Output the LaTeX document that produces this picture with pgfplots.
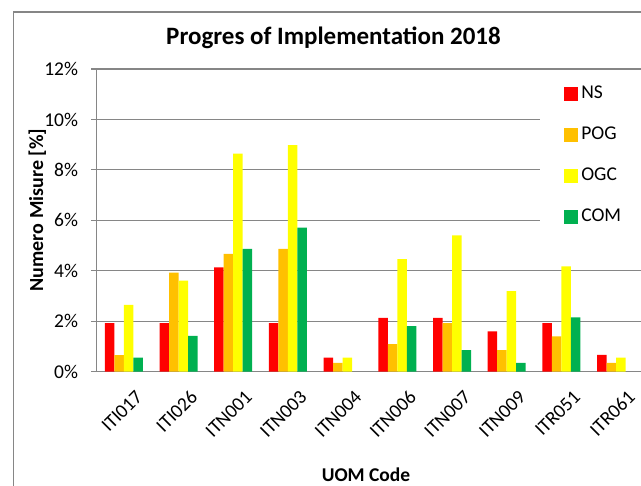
\documentclass[border=0pt]{standalone}
\usepackage{fontspec}
\setmainfont{Carlito}
\usepackage{pgfplots}
\pgfplotsset{compat=1.18}
\definecolor{cNS}{HTML}{FF0000}
\definecolor{cPOG}{HTML}{FFC000}
\definecolor{cOGC}{HTML}{FFFF00}
\definecolor{cCOM}{HTML}{00B050}
\definecolor{axgray}{HTML}{868686}
\pgfplotsset{sqleg/.style={legend image code/.code={\fill[##1] (0pt,-7pt) rectangle (14pt,7pt);}}}
\begin{document}
\begin{tikzpicture}[x=1pt,y=1pt]
\useasboundingbox (0,0) rectangle (641,-486);
\clip (0,0) rectangle (641,-486);
\draw[axgray, line width=1.3pt] (13.5,-490) -- (13.5,-12) -- (650,-12);
\begin{axis}[
  at={(96.5pt,-371.7pt)}, anchor=south west,
  scale only axis, width=547pt, height=302.7pt,
  /pgf/number format/assume math mode=true,
  ybar=0pt, bar width=9.5pt,
  xmin=-0.5, xmax=9.5, ymin=0, ymax=12,
  axis x line*=bottom, axis y line*=left,
  axis line style={axgray, line width=1.2pt, -},
  ymajorgrids, grid style={axgray, line width=1.2pt},
  ytick={0,2,...,12},
  yticklabel={\pgfmathprintnumber{\tick}\%},
  yticklabel style={font=\fontsize{19.5}{21}\selectfont, anchor=east, xshift=-10pt},
  tick align=outside, major tick length=5pt,
  tick style={axgray, line width=1.2pt},
  xtick={0,...,9},
  xticklabels={ITI017,ITI026,ITN001,ITN003,ITN004,ITN006,ITN007,ITN009,ITR051,ITR061},
  xticklabel style={font=\fontsize{19.5}{21}\selectfont, rotate=45, anchor=east, inner sep=1pt, xshift=0pt, yshift=-23pt},
  x tick style={draw=none},
  extra x ticks={-0.5,0.5,...,9.5},
  extra x tick labels={},
  extra x tick style={tick style={axgray, line width=1.2pt, draw=axgray}, grid=none},
  title={\bfseries Progres of Implementation 2018},
  title style={at={(0.4333,1.0595)}, anchor=base, font=\fontsize{25}{28}\selectfont},
  ylabel={\bfseries Numero Misure [\%]},
  ylabel style={at={(-0.1083,0.534)}, anchor=center, font=\fontsize{20}{22}\selectfont},
  xlabel={\bfseries UOM Code},
  xlabel style={at={(0.4927,-0.3396)}, anchor=center, font=\fontsize{19.5}{22}\selectfont},
  legend style={at={(0.811,0.9785)}, anchor=north west, draw=none, fill=white,
    inner xsep=24pt, inner ysep=8pt, row sep=20pt,
    font=\fontsize{19.5}{21}\selectfont,
    nodes={inner sep=3pt, text height=12pt, text depth=3pt}},
  legend cell align=left,
]
\addplot[fill=cNS, draw=none, sqleg] coordinates {(0,1.93) (1,1.93) (2,4.14) (3,1.93) (4,0.56) (5,2.13) (6,2.13) (7,1.60) (8,1.93) (9,0.67)};
\addplot[fill=cPOG, draw=none, sqleg] coordinates {(0,0.66) (1,3.93) (2,4.67) (3,4.87) (4,0.35) (5,1.09) (6,1.93) (7,0.86) (8,1.40) (9,0.35)};
\addplot[fill=cOGC, draw=none, sqleg] coordinates {(0,2.65) (1,3.61) (2,8.65) (3,8.98) (4,0.56) (5,4.46) (6,5.40) (7,3.19) (8,4.18) (9,0.56)};
\addplot[fill=cCOM, draw=none, sqleg] coordinates {(0,0.56) (1,1.42) (2,4.87) (3,5.71) (5,1.81) (6,0.86) (7,0.35) (8,2.15)};
\legend{NS,POG,OGC,COM}
\end{axis}
\end{tikzpicture}
\end{document}
